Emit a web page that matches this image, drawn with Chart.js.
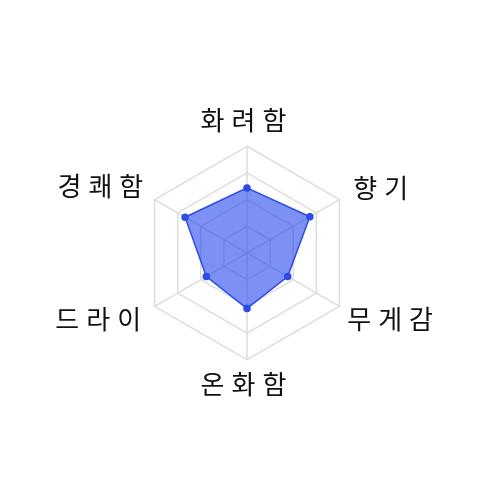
<!DOCTYPE html>
<html>
<head>
<meta charset="utf-8">
<script src="https://cdn.jsdelivr.net/npm/chart.js@4"></script>
<style>
html,body{margin:0;padding:0;background:#fff;}
#wrap{width:500px;height:500px;}
</style>
</head>
<body>
<div id="wrap"><canvas id="c"></canvas></div>
<script>
const categories = ['화려함', '향기', '무게감', '온화함', '드라이', '경쾌함'];
const values = [61, 68, 44, 52, 44, 67];
const tickValues = [0, 25, 50, 75, 100];

const LS = 7;
const proto = CanvasRenderingContext2D.prototype;
const origFillText = proto.fillText;
proto.fillText = function (t, x, y, m) {
  const s = parseFloat(this.letterSpacing) || 0;
  let dx = 0;
  if (this.textAlign === 'center') dx = s / 2;
  else if (this.textAlign === 'right' || this.textAlign === 'end') dx = s;
  return m === undefined
    ? origFillText.call(this, t, x + dx, y)
    : origFillText.call(this, t, x + dx, y, m);
};

const spacing = {
  id: 'spacing',
  beforeInit(chart) { chart.ctx.letterSpacing = LS + 'px'; },
  beforeLayout(chart) { chart.ctx.letterSpacing = LS + 'px'; },
  beforeDraw(chart) { chart.ctx.letterSpacing = LS + 'px'; }
};

const labelLineHeights = { 0: 28, 1: 7, 2: 17, 3: 25, 4: 18, 5: 23 };
const labelPaddings = { 0: 12, 1: 16, 2: 9, 3: 12, 4: 7.5, 5: 5 };

new Chart(document.getElementById('c'), {
  type: 'radar',
  data: {
    labels: categories,
    datasets: [{
      data: values,
      backgroundColor: 'rgba(37,71,235,0.6)',
      borderColor: 'rgb(45,75,230)',
      borderWidth: 1.5,
      pointBackgroundColor: 'rgb(45,75,230)',
      pointBorderColor: 'rgb(45,75,230)',
      pointRadius: 3,
      pointHoverRadius: 3
    }]
  },
  plugins: [spacing],
  options: {
    responsive: true,
    maintainAspectRatio: false,
    animation: false,
    layout: { padding: { left: 55, right: 59, top: 56, bottom: 53 } },
    plugins: { legend: { display: false }, tooltip: { enabled: false } },
    scales: {
      r: {
        min: tickValues[0],
        max: tickValues[tickValues.length - 1],
        ticks: { display: false, stepSize: tickValues[1] - tickValues[0] },
        grid: { color: '#dddddd', lineWidth: 1.5 },
        angleLines: { color: '#dddddd', lineWidth: 1.5 },
        pointLabels: {
          font: (ctx) => ({ family: '"Noto Sans CJK KR"', size: 26, lineHeight: labelLineHeights[ctx.index] + 'px' }),
          color: '#111111',
          padding: (ctx) => labelPaddings[ctx.index]
        }
      }
    }
  }
});
</script>
</body>
</html>
